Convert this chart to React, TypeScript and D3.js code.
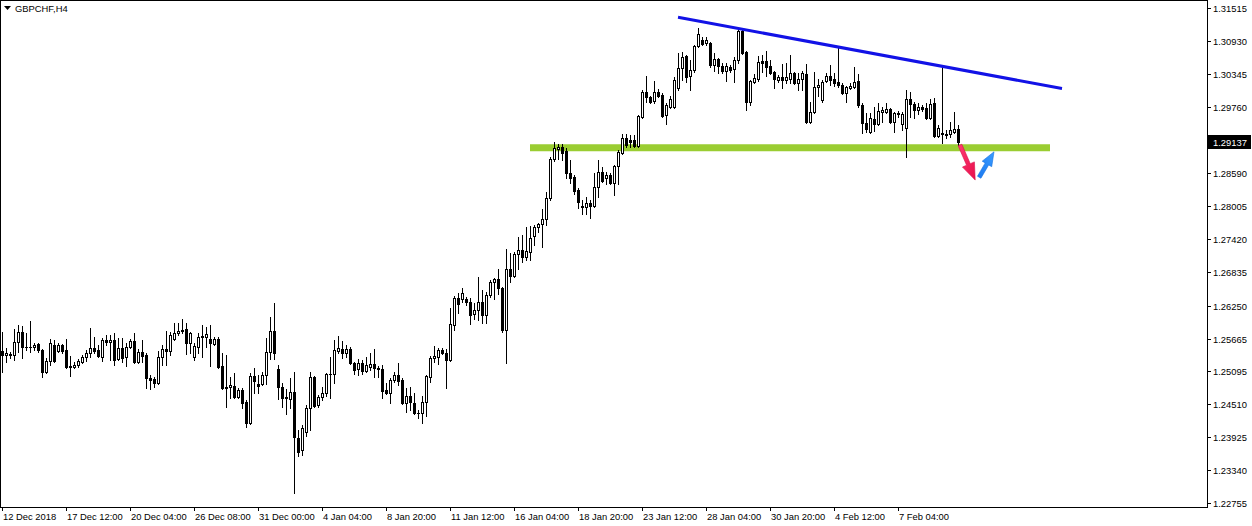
import React from 'react';
import * as d3 from 'd3';

// GBPCHF 4-hour candles, oldest first
const opens = [
  1.2544,1.2537,1.2539,1.2537,1.2560,1.2578,1.2552,1.2551,1.2552,1.2557,
  1.2546,1.2507,1.2527,1.2555,1.2544,1.2555,1.2546,1.2518,1.2516,1.2520,
  1.2525,1.2534,1.2541,1.2550,1.2546,1.2534,1.2564,1.2560,1.2564,1.2530,
  1.2550,1.2534,1.2552,1.2562,1.2525,1.2543,1.2537,1.2497,1.2495,1.2488,
  1.2534,1.2548,1.2544,1.2566,1.2576,1.2580,1.2583,1.2559,1.2534,1.2552,
  1.2569,1.2569,1.2566,1.2557,1.2566,1.2518,1.2479,1.2481,1.2483,1.2463,
  1.2475,1.2454,1.2417,1.2500,1.2486,1.2486,1.2502,1.2543,1.2580,1.2513,
  1.2481,1.2461,1.2459,1.2472,1.2390,1.2369,1.2401,1.2444,1.2498,1.2449,
  1.2463,1.2470,1.2504,1.2504,1.2544,1.2548,1.2541,1.2548,1.2523,1.2513,
  1.2523,1.2509,1.2516,1.2521,1.2514,1.2513,1.2475,1.2470,1.2493,1.2502,
  1.2493,1.2452,1.2465,1.2452,1.2435,1.2435,1.2454,1.2498,1.2532,1.2534,
  1.2546,1.2541,1.2529,1.2590,1.2638,1.2636,1.2636,1.2631,1.2610,1.2617,
  1.2631,1.2608,1.2644,1.2667,1.2672,1.2656,1.2582,1.2690,1.2677,1.2716,
  1.2723,1.2711,1.2720,1.2748,1.2764,1.2769,1.2778,1.2815,1.2884,1.2902,
  1.2906,1.2898,1.2859,1.2852,1.2829,1.2801,1.2799,1.2806,1.2801,1.2835,
  1.2861,1.2851,1.2856,1.2842,1.2872,1.2895,1.2921,1.2918,1.2918,1.2907,
  1.2959,1.3003,1.2994,1.2987,1.3003,1.2998,1.2962,1.2976,1.2976,1.3010,
  1.3045,1.3067,1.3031,1.3042,1.3084,1.3095,1.3090,1.3090,1.3051,1.3061,
  1.3049,1.3040,1.3047,1.3044,1.3060,1.3111,1.3074,1.2985,1.3021,1.3026,
  1.3058,1.3058,1.3049,1.3038,1.3024,1.3029,1.3024,1.3026,1.3036,1.3019,
  1.3026,1.3035,1.2950,1.2967,1.3012,1.2989,1.3022,1.3031,1.3026,1.3021,
  1.3015,1.3001,1.3010,1.3012,1.3022,1.2980,1.2948,1.2932,1.2955,1.2946,
  1.2967,1.2967,1.2973,1.2950,1.2964,1.2946,1.2939,1.2990,1.2982,1.2971,
  1.2976,1.2975,1.2957,1.2983,1.2925,1.2930,1.2927,1.2929,1.2932,1.2937,
];

const highs = [
  1.2578,1.2550,1.2543,1.2583,1.2590,1.2589,1.2576,1.2598,1.2559,1.2559,
  1.2548,1.2532,1.2566,1.2564,1.2559,1.2557,1.2566,1.2536,1.2525,1.2530,
  1.2537,1.2546,1.2585,1.2569,1.2555,1.2567,1.2573,1.2573,1.2576,1.2567,
  1.2567,1.2559,1.2566,1.2576,1.2548,1.2564,1.2541,1.2502,1.2498,1.2544,
  1.2555,1.2580,1.2578,1.2594,1.2594,1.2601,1.2594,1.2578,1.2559,1.2576,
  1.2590,1.2587,1.2590,1.2569,1.2569,1.2541,1.2537,1.2498,1.2506,1.2479,
  1.2479,1.2458,1.2506,1.2514,1.2502,1.2507,1.2567,1.2605,1.2629,1.2520,
  1.2488,1.2477,1.2497,1.2507,1.2405,1.2413,1.2449,1.2507,1.2500,1.2467,
  1.2481,1.2506,1.2534,1.2564,1.2571,1.2562,1.2555,1.2552,1.2525,1.2530,
  1.2529,1.2534,1.2541,1.2548,1.2518,1.2520,1.2488,1.2497,1.2507,1.2523,
  1.2497,1.2479,1.2481,1.2470,1.2440,1.2465,1.2502,1.2536,1.2553,1.2550,
  1.2550,1.2548,1.2621,1.2642,1.2647,1.2656,1.2640,1.2638,1.2629,1.2675,
  1.2652,1.2649,1.2670,1.2674,1.2690,1.2658,1.2725,1.2718,1.2720,1.2746,
  1.2750,1.2764,1.2766,1.2768,1.2771,1.2796,1.2826,1.2888,1.2914,1.2911,
  1.2911,1.2904,1.2883,1.2856,1.2833,1.2812,1.2817,1.2812,1.2859,1.2883,
  1.2870,1.2861,1.2859,1.2874,1.2900,1.2929,1.2929,1.2927,1.2927,1.2962,
  1.3006,1.3031,1.2996,1.3022,1.3008,1.3001,1.2983,1.2996,1.3029,1.3072,
  1.3074,1.3068,1.3060,1.3086,1.3116,1.3100,1.3100,1.3091,1.3072,1.3063,
  1.3054,1.3054,1.3051,1.3065,1.3116,1.3113,1.3075,1.3024,1.3035,1.3067,
  1.3068,1.3075,1.3060,1.3040,1.3033,1.3052,1.3054,1.3068,1.3038,1.3036,
  1.3040,1.3052,1.2985,1.3038,1.3026,1.3024,1.3036,1.3051,1.3036,1.3083,
  1.3019,1.3013,1.3019,1.3047,1.3035,1.2983,1.2966,1.2966,1.2976,1.2983,
  1.2976,1.2983,1.2975,1.2967,1.2969,1.2967,1.3006,1.3003,1.2985,1.2983,
  1.2980,1.2983,1.2990,1.2992,1.2945,1.3051,1.2936,1.2950,1.2967,1.2945,
];

const lows = [
  1.2507,1.2525,1.2532,1.2529,1.2543,1.2532,1.2546,1.2543,1.2546,1.2543,
  1.2498,1.2506,1.2520,1.2525,1.2543,1.2541,1.2514,1.2500,1.2514,1.2516,
  1.2523,1.2527,1.2534,1.2541,1.2534,1.2527,1.2555,1.2529,1.2520,1.2529,
  1.2525,1.2518,1.2550,1.2523,1.2523,1.2525,1.2479,1.2477,1.2481,1.2486,
  1.2520,1.2520,1.2537,1.2564,1.2573,1.2576,1.2539,1.2541,1.2529,1.2541,
  1.2534,1.2552,1.2518,1.2555,1.2514,1.2477,1.2445,1.2461,1.2461,1.2461,
  1.2444,1.2410,1.2415,1.2470,1.2470,1.2484,1.2486,1.2530,1.2530,1.2459,
  1.2445,1.2433,1.2444,1.2293,1.2359,1.2360,1.2394,1.2405,1.2445,1.2445,
  1.2458,1.2465,1.2461,1.2488,1.2541,1.2532,1.2534,1.2521,1.2504,1.2502,
  1.2504,1.2507,1.2511,1.2498,1.2498,1.2461,1.2468,1.2452,1.2489,1.2484,
  1.2451,1.2436,1.2440,1.2433,1.2426,1.2417,1.2429,1.2489,1.2525,1.2521,
  1.2539,1.2479,1.2527,1.2582,1.2612,1.2631,1.2626,1.2592,1.2601,1.2599,
  1.2594,1.2594,1.2640,1.2636,1.2645,1.2578,1.2523,1.2667,1.2675,1.2690,
  1.2702,1.2706,1.2706,1.2732,1.2755,1.2729,1.2768,1.2812,1.2881,1.2884,
  1.2883,1.2851,1.2842,1.2822,1.2798,1.2787,1.2787,1.2780,1.2799,1.2817,
  1.2844,1.2840,1.2840,1.2821,1.2840,1.2893,1.2906,1.2906,1.2906,1.2906,
  1.2957,1.2985,1.2983,1.2983,1.2994,1.2959,1.2946,1.2975,1.2975,1.3006,
  1.3024,1.3021,1.3006,1.3038,1.3083,1.3086,1.3086,1.3047,1.3040,1.3036,
  1.3036,1.3022,1.3038,1.3021,1.3054,1.3070,1.2971,1.2980,1.3019,1.3022,
  1.3038,1.3031,1.3035,1.3010,1.3021,1.3010,1.3019,1.3019,1.3017,1.3006,
  1.3006,1.2948,1.2948,1.2966,1.2996,1.2985,1.3021,1.3015,1.3013,1.3012,
  1.2999,1.2985,1.3008,1.3010,1.2976,1.2930,1.2932,1.2930,1.2934,1.2945,
  1.2950,1.2966,1.2948,1.2932,1.2959,1.2936,1.2888,1.2959,1.2957,1.2964,
  1.2969,1.2955,1.2955,1.2923,1.2923,1.2913,1.2921,1.2923,1.2930,1.2909,
];

const closes = [
  1.2537,1.2541,1.2537,1.2560,1.2578,1.2552,1.2551,1.2552,1.2555,1.2546,
  1.2507,1.2527,1.2559,1.2527,1.2555,1.2544,1.2516,1.2516,1.2520,1.2527,
  1.2534,1.2541,1.2550,1.2544,1.2536,1.2564,1.2560,1.2564,1.2529,1.2550,
  1.2532,1.2552,1.2562,1.2525,1.2543,1.2536,1.2497,1.2493,1.2488,1.2534,
  1.2548,1.2544,1.2573,1.2576,1.2580,1.2582,1.2559,1.2576,1.2553,1.2569,
  1.2571,1.2575,1.2559,1.2566,1.2516,1.2479,1.2481,1.2484,1.2463,1.2475,
  1.2452,1.2417,1.2500,1.2491,1.2483,1.2502,1.2543,1.2580,1.2541,1.2481,
  1.2461,1.2463,1.2472,1.2392,1.2366,1.2408,1.2444,1.2498,1.2447,1.2463,
  1.2470,1.2504,1.2503,1.2546,1.2550,1.2541,1.2548,1.2523,1.2511,1.2523,
  1.2509,1.2520,1.2521,1.2514,1.2513,1.2474,1.2470,1.2493,1.2502,1.2491,
  1.2452,1.2465,1.2454,1.2435,1.2434,1.2454,1.2500,1.2532,1.2536,1.2546,
  1.2541,1.2529,1.2592,1.2638,1.2628,1.2647,1.2631,1.2608,1.2617,1.2631,
  1.2608,1.2644,1.2667,1.2672,1.2656,1.2582,1.2690,1.2677,1.2716,1.2723,
  1.2711,1.2721,1.2744,1.2764,1.2769,1.2778,1.2815,1.2884,1.2904,1.2906,
  1.2895,1.2859,1.2851,1.2828,1.2808,1.2799,1.2806,1.2801,1.2835,1.2861,
  1.2845,1.2856,1.2842,1.2872,1.2897,1.2921,1.2909,1.2914,1.2907,1.2960,
  1.3003,1.2994,1.2985,1.3003,1.2996,1.2960,1.2980,1.2990,1.3024,1.3045,
  1.3065,1.3029,1.3042,1.3084,1.3106,1.3088,1.3095,1.3051,1.3061,1.3049,
  1.3040,1.3049,1.3042,1.3060,1.3111,1.3072,1.2985,1.3022,1.3028,1.3056,
  1.3054,1.3047,1.3036,1.3026,1.3029,1.3024,1.3029,1.3036,1.3019,1.3026,
  1.3036,1.2950,1.2967,1.3012,1.3015,1.3021,1.3031,1.3024,1.3019,1.3015,
  1.3001,1.3012,1.3013,1.3021,1.2980,1.2948,1.2937,1.2957,1.2946,1.2969,
  1.2971,1.2973,1.2950,1.2966,1.2966,1.2964,1.2990,1.2982,1.2971,1.2976,
  1.2973,1.2957,1.2982,1.2925,1.2939,1.2929,1.2929,1.2936,1.2937,1.29137,
];

const symbolTitle = 'GBPCHF,H4';
const lastPrice = 1.29137;

// right-hand price scale labels
const priceTicks = [
  1.31515, 1.3093, 1.30345, 1.2976, 1.2859, 1.28005, 1.2742, 1.26835,
  1.2625, 1.25665, 1.25095, 1.2451, 1.23925, 1.2334, 1.22755,
];

// bottom time scale: bar index and label
const timeTickBars = [0, 16, 32, 48, 64, 80, 96, 112, 128, 144, 160, 176, 192, 208, 224];
const timeTickLabels = [
  '12 Dec 2018', '17 Dec 12:00', '20 Dec 04:00', '26 Dec 08:00', '31 Dec 00:00',
  '4 Jan 04:00', '8 Jan 20:00', '11 Jan 12:00', '16 Jan 04:00', '18 Jan 20:00',
  '23 Jan 12:00', '28 Jan 04:00', '30 Jan 20:00', '4 Feb 12:00', '7 Feb 04:00',
];

// drawn objects (bar index / price anchors)
const trendBars = [169, 265];
const trendPrices = [1.3135, 1.3009];
const supportBars = [132, 262];
const supportPrice = 1.2904;
const downArrowBars = [239.5, 243.3];
const downArrowPrices = [1.2909, 1.2847];
const upArrowBars = [244.3, 248];
const upArrowPrices = [1.2852, 1.2897];

const W = 1252;
const H = 526;
const AXIS_X = 1207;
const AXIS_Y = 507;
const FONT = '"Liberation Sans", Arial, sans-serif';
const FONT_SIZE = 9.4;

function arrowPolygon(x1: number, y1: number, x2: number, y2: number, shaft: number, headW: number, headL: number) {
  const dx = x2 - x1, dy = y2 - y1;
  const len = Math.hypot(dx, dy);
  const ux = dx / len, uy = dy / len;
  const nx = -uy, ny = ux;
  const bx = x2 - ux * headL, by = y2 - uy * headL;
  const pts: [number, number][] = [
    [x1 + nx * shaft / 2, y1 + ny * shaft / 2],
    [bx + nx * shaft / 2, by + ny * shaft / 2],
    [bx + nx * headW / 2, by + ny * headW / 2],
    [x2, y2],
    [bx - nx * headW / 2, by - ny * headW / 2],
    [bx - nx * shaft / 2, by - ny * shaft / 2],
    [x1 - nx * shaft / 2, y1 - ny * shaft / 2],
  ];
  return pts.map(p => p.join(',')).join(' ');
}

export default function App() {
  const n = closes.length;
  const x = d3.scaleLinear().domain([0, n - 1]).range([2, 2 + 4 * (n - 1)]);
  const y = d3.scaleLinear().domain([1.22755, 1.31515]).range([503, 8]);
  const px = (i: number) => Math.round(x(i));
  const py = (v: number) => Math.round(y(v));

  const candles = d3.range(n).map(i => {
    const cx = px(i);
    const o = opens[i], c = closes[i];
    const top = py(Math.max(o, c));
    const bot = py(Math.min(o, c));
    const bull = c >= o;
    return (
      <g key={i}>
        <line x1={cx + 0.5} x2={cx + 0.5} y1={py(highs[i])} y2={py(lows[i]) + 1} stroke="#000" strokeWidth={1} />
        {bot - top < 1 ? (
          <line x1={cx - 1} x2={cx + 2} y1={top + 0.5} y2={top + 0.5} stroke="#000" strokeWidth={1} />
        ) : (
          <rect x={cx - 0.5} y={top + 0.5} width={2} height={bot - top} fill={bull ? '#fff' : '#000'} stroke="#000" strokeWidth={1} />
        )}
      </g>
    );
  });

  const lastY = py(lastPrice);

  return (
    <svg width={W} height={H} style={{ position: 'absolute', left: 0, top: 0, background: '#fff' }} fontFamily={FONT}>
      <defs>
        <linearGradient id="downFill" x1="0" y1="0" x2="1" y2="1">
          <stop offset="0%" stopColor="#ff3a72" />
          <stop offset="100%" stopColor="#e8104c" />
        </linearGradient>
        <linearGradient id="upFill" x1="0" y1="1" x2="1" y2="0">
          <stop offset="0%" stopColor="#1a78f0" />
          <stop offset="100%" stopColor="#3a9cff" />
        </linearGradient>
      </defs>
      <rect x={0} y={0} width={W} height={H} fill="#fff" />
      {/* chart frame */}
      <rect x={0.5} y={0.5} width={AXIS_X} height={AXIS_Y} fill="none" stroke="#000" strokeWidth={1} />

      {/* support zone */}
      <line x1={x(supportBars[0])} x2={x(supportBars[1])} y1={y(supportPrice)} y2={y(supportPrice)} stroke="#9acd32" strokeWidth={7} />

      {candles}

      {/* falling resistance line */}
      <line x1={x(trendBars[0])} y1={y(trendPrices[0])} x2={x(trendBars[1])} y2={y(trendPrices[1])} stroke="#1212e6" strokeWidth={3} />

      {/* scenario arrows */}
      <polygon
        points={arrowPolygon(x(downArrowBars[0]), y(downArrowPrices[0]), x(downArrowBars[1]), y(downArrowPrices[1]), 4, 13, 17)}
        fill="url(#downFill)" stroke="#d80e48" strokeWidth={0.6}
      />
      <polygon
        points={arrowPolygon(x(upArrowBars[0]), y(upArrowPrices[0]), x(upArrowBars[1]), y(upArrowPrices[1]), 4, 11, 14)}
        fill="url(#upFill)" stroke="#1470e0" strokeWidth={0.6}
      />

      {/* title */}
      <path d="M4,6 L11,6 L7.5,10 Z" fill="#000" />
      <text x={15} y={12} fontSize={FONT_SIZE} fill="#000">{symbolTitle}</text>

      {/* price axis */}
      {priceTicks.map(v => (
        <g key={v}>
          <line x1={AXIS_X} x2={AXIS_X + 4} y1={py(v) + 0.5} y2={py(v) + 0.5} stroke="#000" />
          <text x={AXIS_X + 6} y={py(v) + 4} fontSize={FONT_SIZE} fill="#000">{v.toFixed(5)}</text>
        </g>
      ))}
      <rect x={AXIS_X + 1} y={lastY - 7} width={W - AXIS_X - 2} height={14} fill="#000" />
      <text x={AXIS_X + 6} y={lastY + 4} fontSize={FONT_SIZE} fill="#fff">{lastPrice.toFixed(5)}</text>

      {/* time axis */}
      {timeTickBars.map((b, i) => (
        <g key={b}>
          <line x1={px(b) + 0.5} x2={px(b) + 0.5} y1={AXIS_Y} y2={AXIS_Y + 4} stroke="#000" />
          <text x={px(b) + 1} y={AXIS_Y + 13} fontSize={FONT_SIZE} fill="#000">{timeTickLabels[i]}</text>
        </g>
      ))}
    </svg>
  );
}
